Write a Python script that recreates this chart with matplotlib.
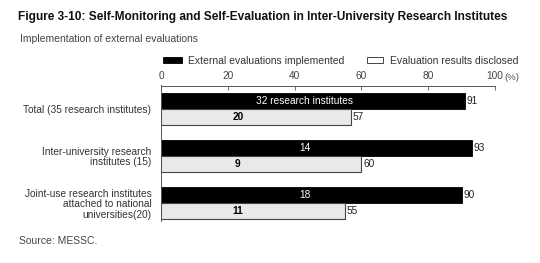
import matplotlib
matplotlib.use("Agg")
import matplotlib.pyplot as plt
from matplotlib.patches import Rectangle

plt.rcParams['font.family'] = ['Liberation Sans', 'DejaVu Sans']

# data
categories = ['Total (35 research institutes)',
              'Inter-university research\ninstitutes (15)',
              'Joint-use research institutes\nattached to national\nuniversities(20)']
implemented = [91, 93, 90]
disclosed = [57, 60, 55]
implemented_counts = ['32 research institutes', '14', '18']
disclosed_counts = ['20', '9', '11']
ticks = [0, 20, 40, 60, 80, 100]
series_names = ['External evaluations implemented', 'Evaluation results disclosed']

W, H = 540, 263
fig = plt.figure(figsize=(5.4, 2.63), dpi=100)
ax = fig.add_axes([161/W, 1 - 221/H, 334/W, 135.5/H])

h = 0.34
ypos = list(range(len(categories)))
ax.barh([y - h/2 for y in ypos], implemented, height=h, color='black',
        edgecolor='black', linewidth=0.6)
ax.barh([y + h/2 for y in ypos], disclosed, height=h, color='#e9e9e9',
        edgecolor='#444444', linewidth=0.8)

for y, v, c in zip(ypos, implemented, implemented_counts):
    ax.text(v + 0.5, y - h/2, str(v), va='center', ha='left', fontsize=7.3, color='#222222')
    ax.text(43, y - h/2, c, va='center', ha='center', fontsize=7.3, color='white')
for y, v, c in zip(ypos, disclosed, disclosed_counts):
    ax.text(v + 0.5, y + h/2, str(v), va='center', ha='left', fontsize=7.3, color='#222222')
    ax.text(23, y + h/2, c, va='center', ha='center', fontsize=7.3, color='black', fontweight='bold')

ax.set_xlim(0, 100)
ax.set_ylim(2.383, -0.5)
ax.xaxis.tick_top()
ax.set_xticks(ticks)
ax.set_xticklabels([str(t) for t in ticks], fontsize=7.3, color='#444444')
ax.tick_params(axis='x', direction='in', length=3, width=0.6, color='#555555', pad=3)
ax.set_yticks(ypos)
ax.set_yticklabels(categories, fontsize=7.3, color='#333333', linespacing=1.05)
ax.tick_params(axis='y', length=0, pad=7)
for s in ['right', 'bottom']:
    ax.spines[s].set_visible(False)
for s in ['top', 'left']:
    ax.spines[s].set_linewidth(0.7)
    ax.spines[s].set_color('#555555')

fig.text(504/W, 1 - 77/H, '(%)', fontsize=6.8, color='#555555', va='center', ha='left')

# legend
fig.patches.append(Rectangle((163/W, 1 - 63/H), 19/W, 6/H, transform=fig.transFigure,
                             facecolor='black', edgecolor='black', lw=0.6))
fig.text(188/W, 1 - 60.5/H, series_names[0], fontsize=7.5, color='#333333', va='center')
fig.patches.append(Rectangle((367/W, 1 - 63/H), 16/W, 6/H, transform=fig.transFigure,
                             facecolor='white', edgecolor='#444444', lw=0.7))
fig.text(390/W, 1 - 60.5/H, series_names[1], fontsize=7.5, color='#333333', va='center')

fig.text(18/W, 1 - 17/H,
         'Figure 3-10: Self-Monitoring and Self-Evaluation in Inter-University Research Institutes',
         fontsize=8.6, fontweight='bold', color='#111111', va='center')
fig.text(20/W, 1 - 39.5/H, 'Implementation of external evaluations', fontsize=7.5,
         color='#444444', va='center')
fig.text(19/W, 1 - 241/H, 'Source: MESSC.', fontsize=7.5, color='#444444', va='center')

fig.savefig('out.png', dpi=100, facecolor='white')
